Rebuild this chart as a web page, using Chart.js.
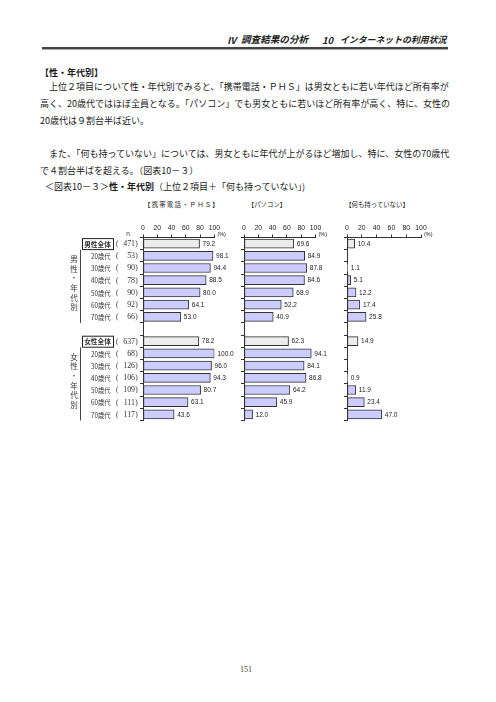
<!DOCTYPE html>
<html lang="ja">
<head>
<meta charset="utf-8">
<script src="https://cdn.jsdelivr.net/npm/chart.js@4.4.0/dist/chart.umd.min.js"></script>
<style>
  html, body { margin: 0; padding: 0; background: #fff; }
  body { width: 496px; height: 702px; position: relative; overflow: hidden;
         font-family: 'Noto Sans CJK JP', sans-serif; color: #1a1a1a; }
  .t { position: absolute; white-space: nowrap; line-height: 1; }
  .body { font-size: 9px; }
  .head { top: 35.5px; font-size: 9.4px; font-style: italic; font-weight: bold; color: #222; }
  .rule { position: absolute; left: 42px; width: 406px; top: 47px; height: 2px; background: #444; box-shadow: 0 1px 0 #aaa; }
  .ptitle { font-size: 6.4px; color: #222; transform: translateX(-50%); }
  canvas { position: absolute; }
</style>
</head>
<body>
<div class="t head" style="left:227px;">Ⅳ</div>
<div class="t head" style="left:241px;font-size:9.6px;top:35px;">調査結果の分析</div>
<div class="t head" style="left:322px;">10</div>
<div class="t head" style="left:340px;font-size:8.9px;top:36px;">インターネットの利用状況</div>
<div class="rule"></div>

<div class="t body" style="left:40px;top:67.5px;font-weight:bold;">【性・年代別】</div>
<div class="t body" style="left:40px;top:81.5px;">　上位２項目について性・年代別でみると、「携帯電話・ＰＨＳ」は男女ともに若い年代ほど所有率が</div>
<div class="t body" style="left:40px;top:98.5px;">高く、20歳代ではほぼ全員となる。「パソコン」でも男女ともに若いほど所有率が高く、特に、女性の</div>
<div class="t body" style="left:40px;top:115.5px;">20歳代は９割台半ば近い。</div>
<div class="t body" style="left:40px;top:148.5px;">　また、「何も持っていない」については、男女ともに年代が上がるほど増加し、特に、女性の70歳代</div>
<div class="t body" style="left:40px;top:165.5px;">で４割台半ばを超える。（図表10－３）</div>
<div class="t body" style="left:45px;top:181.5px;">＜図表10－３＞<b>性・年代別</b>（上位２項目＋「何も持っていない」)</div>

<div class="t ptitle" style="left:182px;top:202px;letter-spacing:1.2px;">【携帯電話・ＰＨＳ】</div>
<div class="t ptitle" style="left:267px;top:202px;">【パソコン】</div>
<div class="t ptitle" style="left:377px;top:202px;">【何も持っていない】</div>

<canvas id="c1" width="175" height="212" style="left:60px;top:215px;"></canvas>
<canvas id="c2" width="105" height="212" style="left:230px;top:215px;"></canvas>
<canvas id="c3" width="105" height="212" style="left:336px;top:215px;"></canvas>

<div class="t" style="left:240px;top:666px;font-size:8px;font-family:'Liberation Serif',serif;color:#444;">151</div>

<script>
// --- 行（カテゴリ）と n ---
const CATEGORIES = ['男性全体', '20歳代', '30歳代', '40歳代', '50歳代', '60歳代', '70歳代', '',
                    '女性全体', '20歳代', '30歳代', '40歳代', '50歳代', '60歳代', '70歳代'];
const SAMPLE_N = [471, 53, 90, 78, 90, 92, 66, null, 637, 68, 126, 106, 109, 111, 117];
const TOTAL_ROWS = [0, 8];
const GROUP_LABELS = ['男性・年代別', '女性・年代別'];
const GROUP_ROWS = [[1, 6], [9, 14]];

// --- 値 (%) ---
const MOBILE = [79.2, 98.1, 94.4, 88.5, 80.0, 64.1, 53.0, null, 78.2, 100.0, 96.0, 94.3, 80.7, 63.1, 43.6];
const PC     = [69.6, 84.9, 87.8, 84.6, 68.9, 52.2, 40.9, null, 62.3, 94.1, 84.1, 86.8, 64.2, 45.9, 12.0];
const NONE   = [10.4, null, 1.1, 5.1, 12.2, 17.4, 25.8, null, 14.9, null, null, 0.9, 11.9, 23.4, 47.0];

const X_TICKS = [0, 20, 40, 60, 80, 100];

const COLOR_TOTAL = '#ececec';
const COLOR_AGE = '#ccccff';
const LINE = '#333';

// 横方向に少し詰めて描く（明朝の詰まった感じに寄せる）
const drawCondensed = (ctx, text, x, y, align, sx) => {
    ctx.save();
    ctx.translate(x, y);
    ctx.scale(sx, 1);
    ctx.textAlign = align;
    ctx.fillText(text, 0, 0);
    ctx.restore();
};

// 数値ラベル（バーの右）
const valueLabels = {
    id: 'valueLabels',
    afterDatasetsDraw(chart) {
        const ctx = chart.ctx;
        const values = chart.data.datasets[0].data;
        ctx.save();
        ctx.font = '6.5px "Liberation Sans", Arial, sans-serif';
        ctx.fillStyle = '#222';
        ctx.textBaseline = 'middle';
        chart.getDatasetMeta(0).data.forEach((bar, i) => {
            if (values[i] == null) return;
            ctx.fillText(values[i].toFixed(1), bar.x + 3, bar.y + 0.5);
        });
        // (%)
        const a = chart.chartArea;
        ctx.font = '5.5px "Liberation Sans", Arial, sans-serif';
        ctx.fillText('(%)', a.right + 3, a.top - 3);
        ctx.restore();
    }
};

// 左側の行ラベル（パネル1のみ）
const rowLabels = {
    id: 'rowLabels',
    afterDraw(chart) {
        const ctx = chart.ctx;
        const y = chart.scales.y;
        const ox = -60; // canvas left offset in page coords
        ctx.save();
        ctx.fillStyle = '#333';
        ctx.strokeStyle = '#222';
        ctx.textBaseline = 'middle';
        ctx.font = '6.5px "Liberation Sans", sans-serif';
        ctx.textAlign = 'center';
        ctx.fillText('n', 128 + ox, 234 - 215);

        CATEGORIES.forEach((cat, i) => {
            if (!cat) return;
            const py = y.getPixelForValue(i) + 0.5;
            if (TOTAL_ROWS.includes(i)) {
                ctx.font = 'bold 7px "Noto Sans CJK JP", sans-serif';
                drawCondensed(ctx, cat, 97.5 + ox, py, 'center', 0.95);
                ctx.lineWidth = 1;
                ctx.strokeRect(82.5 + ox, py - 5.5, 31, 11);
            } else {
                ctx.font = '7px "Noto Sans CJK JP", sans-serif';
                drawCondensed(ctx, cat, 91 + ox, py, 'left', 0.9);
            }
            ctx.font = '7.5px "Liberation Serif", serif';
            drawCondensed(ctx, '(', 116 + ox, py, 'left', 1);
            drawCondensed(ctx, String(SAMPLE_N[i]), 135 + ox, py, 'right', 1.05);
            drawCondensed(ctx, ')', 137.8 + ox, py, 'right', 1);
        });

        // 縦書きグループラベルと縦線
        GROUP_LABELS.forEach((label, g) => {
            const [r0, r1] = GROUP_ROWS[g];
            const half = (y.getPixelForValue(1) - y.getPixelForValue(0)) / 2;
            const top = y.getPixelForValue(r0) - half;
            const bottom = y.getPixelForValue(r1) + half;
            ctx.beginPath();
            ctx.moveTo(80.5 + ox, top);
            ctx.lineTo(80.5 + ox, bottom);
            ctx.lineWidth = 1;
            ctx.strokeStyle = '#444';
            ctx.stroke();
            const mid = (top + bottom) / 2 - 3;
            const chars = [...label];
            ctx.font = '7.5px "Noto Sans CJK JP", sans-serif';
            ctx.textAlign = 'center';
            chars.forEach((ch, k) => {
                ctx.fillText(ch, 74 + ox, mid + (k - (chars.length - 1) / 2) * 9.6);
            });
        });
        ctx.restore();
    }
};

const makePanel = (id, values, padLeft, padRight, withRows) => {
    const colors = values.map((_, i) => TOTAL_ROWS.includes(i) ? COLOR_TOTAL : COLOR_AGE);
    return new Chart(document.getElementById(id).getContext('2d'), {
        type: 'bar',
        data: {
            labels: CATEGORIES.map((c, i) => c + i),
            datasets: [{
                data: values,
                backgroundColor: colors,
                borderColor: LINE,
                borderWidth: 1,
                borderSkipped: false,
                barThickness: 9
            }]
        },
        options: {
            indexAxis: 'y',
            responsive: false,
            animation: false,
            devicePixelRatio: 1,
            layout: { padding: { left: padLeft, right: padRight, top: 0, bottom: 6.5 } },
            plugins: { legend: { display: false }, tooltip: { enabled: false } },
            scales: {
                x: {
                    type: 'linear',
                    position: 'top',
                    min: 0,
                    max: 100,
                    afterBuildTicks: (s) => { s.ticks = X_TICKS.map(v => ({ value: v })); },
                    afterFit: (s) => { s.height = 22.5; },
                    ticks: {
                        font: { size: 6.8, family: '"Liberation Sans", Arial, sans-serif' },
                        color: '#222',
                        padding: 2,
                        autoSkip: false,
                        maxRotation: 0
                    },
                    grid: { drawOnChartArea: false, tickLength: 3, color: LINE },
                    border: { color: LINE }
                },
                y: {
                    afterFit: (s) => { s.width = 4; },
                    ticks: { display: false },
                    grid: { drawOnChartArea: false, tickLength: 3, offset: true, color: LINE },
                    border: { color: LINE }
                }
            }
        },
        plugins: withRows ? [valueLabels, rowLabels] : [valueLabels]
    });
};

makePanel('c1', MOBILE, 79, 20.6, true);
makePanel('c2', PC, 10, 19.5, false);
makePanel('c3', NONE, 7, 20, false);
</script>
</body>
</html>
